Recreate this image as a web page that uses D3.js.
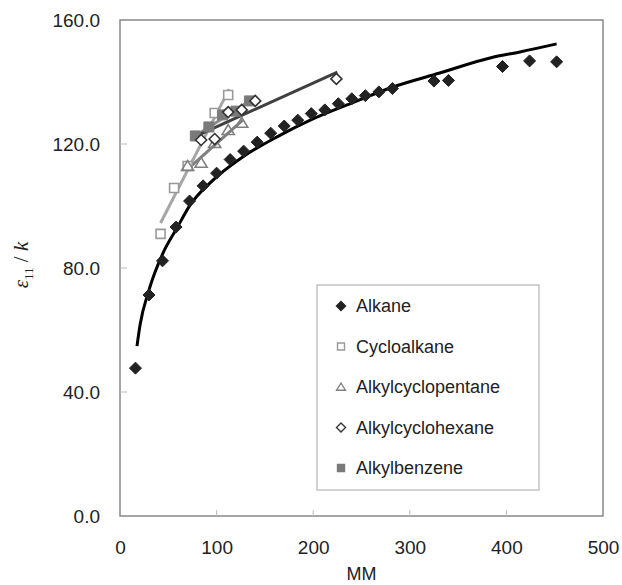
<!DOCTYPE html>
<html>
<head>
<meta charset="utf-8">
<script src="https://cdn.jsdelivr.net/npm/d3@7"></script>
<style>
  body { margin: 0; background: #fff; }
  svg { display: block; }
  text { font-family: "Liberation Sans", Arial, sans-serif; fill: #222; }
</style>
</head>
<body>
<div id="chart"></div>
<script>
// data
var alkaneMM = [16, 30, 44, 58, 72, 86, 100, 114, 128, 142, 156, 170, 184, 198, 212, 226, 240, 254, 268, 282, 325, 340, 396, 424, 452];
var alkaneVal = [47.7, 71.3, 82.3, 93.2, 101.6, 106.5, 110.6, 115.0, 117.7, 120.6, 123.5, 125.8, 127.7, 129.8, 131.0, 133.0, 134.6, 135.6, 136.8, 137.9, 140.3, 140.5, 145.0, 146.8, 146.5];

// alkane fitted curve
var curveMM = [17.6, 20.7, 30, 44.5, 59, 72.5, 93, 127, 162.5, 197, 235, 282.6, 331, 386, 414, 452];
var curveVal = [54.8, 61.5, 72.9, 84.8, 92.9, 100.3, 107.4, 115.8, 122.3, 127.7, 132.6, 138.4, 142.9, 148.0, 149.7, 152.3];

var cycloMM = [42, 56, 70, 98, 112];
var cycloVal = [91.0, 105.8, 112.9, 130.0, 135.8];
var cycloLineMM = [42, 113];
var cycloLineVal = [94.5, 137.7];

var pentMM = [70, 84, 98, 112, 126];
var pentVal = [112.9, 113.9, 120.3, 124.5, 126.8];
var pentLineMM = [69, 127];
var pentLineVal = [111.6, 127.7];

var hexMM = [84, 98, 112, 126, 140, 224];
var hexVal = [121.3, 121.6, 130.3, 131.0, 133.9, 141.0];
var hexLineMM = [81, 225];
var hexLineVal = [122.9, 143.2];

var benzMM = [78, 92, 106, 120, 134];
var benzVal = [122.6, 125.5, 129.4, 130.6, 133.9];
var benzLineMM = [78, 134];
var benzLineVal = [122.6, 133.9];

var xTicks = [0, 100, 200, 300, 400, 500];
var yTicks = [0, 40, 80, 120, 160];

var legendNames = ["Alkane", "Cycloalkane", "Alkylcyclopentane", "Alkylcyclohexane", "Alkylbenzene"];

var svgWidth = 622;
var svgHeight = 585;
var margin = { top: 20, right: 19, bottom: 69, left: 120 };
var width = svgWidth - margin.left - margin.right;
var height = svgHeight - margin.top - margin.bottom;

var svg = d3.select("#chart")
    .append("svg")
    .attr("width", svgWidth)
    .attr("height", svgHeight);

var chartGroup = svg.append("g")
    .attr("transform", `translate(${margin.left}, ${margin.top})`);

var xScale = d3.scaleLinear().domain([0, 500]).range([0, width]);
var yScale = d3.scaleLinear().domain([0, 160]).range([height, 0]);

// frame
chartGroup.append("rect")
    .attr("width", width)
    .attr("height", height)
    .attr("fill", "none")
    .attr("stroke", "#888")
    .attr("stroke-width", 1.5);

// axes with inward ticks
var bottomAxis = d3.axisBottom(xScale).tickValues(xTicks).tickSize(0).tickPadding(25).tickFormat(d3.format("d"));
var leftAxis = d3.axisLeft(yScale).tickValues(yTicks).tickSize(0).tickPadding(20).tickFormat(d3.format(".1f"));

var xAxis = chartGroup.append("g")
    .attr("transform", `translate(0, ${height})`)
    .call(bottomAxis);
var yAxis = chartGroup.append("g").call(leftAxis);

[xAxis, yAxis].forEach(function (ax) {
    ax.select(".domain").remove();
    ax.selectAll("text").style("font-size", "19px").attr("fill", "#222");
});

chartGroup.selectAll(".xtick")
    .data(xTicks.slice(1, -1))
    .enter()
    .append("line")
    .attr("x1", d => xScale(d)).attr("x2", d => xScale(d))
    .attr("y1", height).attr("y2", height - 6)
    .attr("stroke", "#bbb");

chartGroup.selectAll(".ytick")
    .data(yTicks.slice(1, -1))
    .enter()
    .append("line")
    .attr("x1", 0).attr("x2", 7)
    .attr("y1", d => yScale(d)).attr("y2", d => yScale(d))
    .attr("stroke", "#bbb");

// axis titles
svg.append("text")
    .attr("x", margin.left + xScale(250))
    .attr("y", 580)
    .attr("text-anchor", "middle")
    .style("font-size", "18px")
    .text("MM");

var yTitle = svg.append("text")
    .attr("transform", "translate(28, 265) rotate(-90)")
    .attr("text-anchor", "middle")
    .style("font-family", "'Liberation Serif', 'DejaVu Serif', serif")
    .style("font-size", "21px");
yTitle.append("tspan").style("font-style", "italic").text("ε");
yTitle.append("tspan").attr("dy", 5).style("font-size", "13px").text("11");
yTitle.append("tspan").attr("dy", -5).text(" / ");
yTitle.append("tspan").style("font-style", "italic").text("k");

// lines
var line = d3.line()
    .x(d => xScale(d[0]))
    .y(d => yScale(d[1]));

function pairs(xs, ys) {
    return xs.map((x, i) => [x, ys[i]]);
}

chartGroup.append("path")
    .datum(pairs(curveMM, curveVal))
    .attr("d", line.curve(d3.curveMonotoneX))
    .attr("fill", "none")
    .attr("stroke", "#000")
    .attr("stroke-width", 3);

line.curve(d3.curveLinear);

var trendLines = [
    { mm: cycloLineMM, v: cycloLineVal, color: "#a6a6a6" },
    { mm: pentLineMM, v: pentLineVal, color: "#7f7f7f" },
    { mm: benzLineMM, v: benzLineVal, color: "#8a8a8a" },
    { mm: hexLineMM, v: hexLineVal, color: "#404040" }
];
trendLines.forEach(function (t) {
    chartGroup.append("path")
        .datum(pairs(t.mm, t.v))
        .attr("d", line)
        .attr("fill", "none")
        .attr("stroke", t.color)
        .attr("stroke-width", 3);
});

// marker shapes
function diamond(r) {
    return `M0,${-r}L${r},0L0,${r}L${-r},0Z`;
}
function square(r) {
    return `M${-r},${-r}H${r}V${r}H${-r}Z`;
}
function triangle(r) {
    return `M0,${-r}L${r * 1.1},${r * 0.8}L${-r * 1.1},${r * 0.8}Z`;
}

var markerDefs = [
    { mm: cycloMM, v: cycloVal, path: square(4.5), fill: "#fff", stroke: "#999", sw: 1.6 },
    { mm: pentMM, v: pentVal, path: triangle(5.5), fill: "none", stroke: "#808080", sw: 1.6 },
    { mm: benzMM, v: benzVal, path: square(5), fill: "#7a7a7a", stroke: "#7a7a7a", sw: 1 },
    { mm: hexMM, v: hexVal, path: diamond(5.5), fill: "#fff", stroke: "#333", sw: 1.6 },
    { mm: alkaneMM, v: alkaneVal, path: diamond(6), fill: "#222", stroke: "#222", sw: 1 }
];

markerDefs.forEach(function (m) {
    chartGroup.append("g")
        .selectAll("path")
        .data(pairs(m.mm, m.v))
        .enter()
        .append("path")
        .attr("transform", d => `translate(${xScale(d[0])}, ${yScale(d[1])})`)
        .attr("d", m.path)
        .attr("fill", m.fill)
        .attr("stroke", m.stroke)
        .attr("stroke-width", m.sw);
});

// legend
var legend = svg.append("g").attr("transform", "translate(317, 285)");
legend.append("rect")
    .attr("width", 222)
    .attr("height", 205)
    .attr("fill", "#fff")
    .attr("stroke", "#c4c4c4")
    .attr("stroke-width", 1.5);

var legendMarks = [
    { path: diamond(4.5), fill: "#222", stroke: "#222" },
    { path: square(3.5), fill: "#fff", stroke: "#999" },
    { path: triangle(4), fill: "none", stroke: "#808080" },
    { path: diamond(4.5), fill: "#fff", stroke: "#333" },
    { path: square(3.5), fill: "#7a7a7a", stroke: "#7a7a7a" }
];

legendNames.forEach(function (name, i) {
    var row = legend.append("g").attr("transform", `translate(0, ${21 + i * 40.5})`);
    row.append("path")
        .attr("transform", "translate(24, 0)")
        .attr("d", legendMarks[i].path)
        .attr("fill", legendMarks[i].fill)
        .attr("stroke", legendMarks[i].stroke)
        .attr("stroke-width", 1.4);
    row.append("text")
        .attr("x", 39)
        .attr("dy", "0.35em")
        .style("font-size", "18px")
        .text(name);
});
</script>
</body>
</html>
